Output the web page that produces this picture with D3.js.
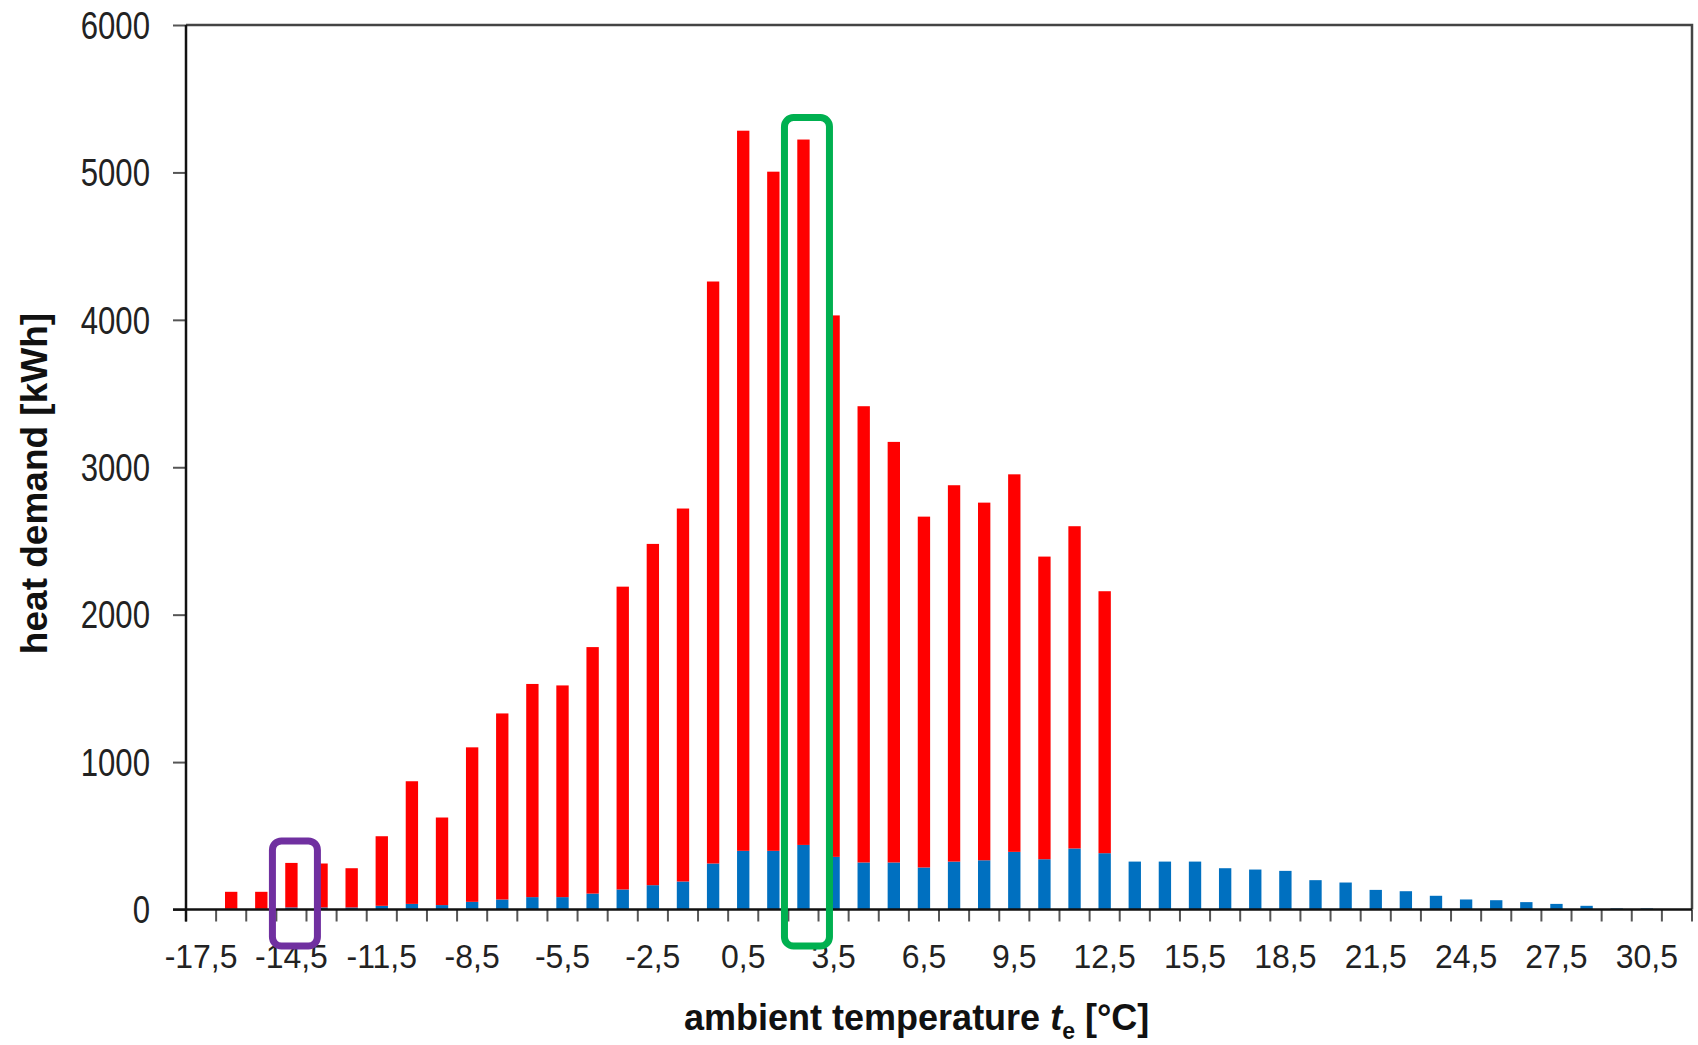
<!DOCTYPE html>
<html>
<head>
<meta charset="utf-8">
<script src="https://cdn.jsdelivr.net/npm/d3@7"></script>
<style>
  body { margin: 0; background: #fff; }
  svg { display: block; font-family: "Liberation Sans", Arial, sans-serif; }
</style>
</head>
<body>
<div id="chart"></div>
<script>
// temperature bins (bin centres, °C)
const temperatures = [
  -17.5, -16.5, -15.5, -14.5, -13.5, -12.5, -11.5, -10.5, -9.5, -8.5,
  -7.5, -6.5, -5.5, -4.5, -3.5, -2.5, -1.5, -0.5, 0.5, 1.5,
  2.5, 3.5, 4.5, 5.5, 6.5, 7.5, 8.5, 9.5, 10.5, 11.5,
  12.5, 13.5, 14.5, 15.5, 16.5, 17.5, 18.5, 19.5, 20.5, 21.5,
  22.5, 23.5, 24.5, 25.5, 26.5, 27.5, 28.5, 29.5, 30.5, 31.5
];

// blue part (bottom of stack), kWh
const hotWater = [
  0, 5, 5, 14, 14, 14, 25, 38, 30, 52,
  68, 84, 84, 108, 136, 165, 190, 312, 398, 398,
  438, 357, 319, 319, 285, 325, 334, 391, 341, 414,
  382, 325, 325, 325, 280, 271, 262, 199, 183, 133,
  124, 93, 68, 63, 50, 38, 25, 7, 7, 0
];

// red part (top of stack), kWh
const spaceHeating = [
  0, 115, 115, 302, 298, 266, 472, 832, 594, 1048,
  1262, 1446, 1436, 1672, 2054, 2315, 2530, 3948, 4885, 4607,
  4785, 3673, 3095, 2853, 2380, 2553, 2426, 2561, 2053, 2186,
  1777, 0, 0, 0, 0, 0, 0, 0, 0, 0,
  0, 0, 0, 0, 0, 0, 0, 0, 0, 0
];

const yTicks = [0, 1000, 2000, 3000, 4000, 5000, 6000];
const labelStep = 3;
const highlightTemps = [-14.5, 2.5];

const width = 1698;
const height = 1045;
const plot = { left: 186, right: 1692, top: 25, bottom: 909.5 };

const svg = d3.select("#chart")
  .append("svg")
  .attr("width", width)
  .attr("height", height);

const pad = 0.59;
const x = d3.scaleBand()
  .domain(temperatures)
  .range([plot.left, plot.right])
  .paddingInner(pad)
  .paddingOuter(pad / 2);

const y = d3.scaleLinear()
  .domain([0, 6000])
  .range([plot.bottom, plot.top]);

const rows = temperatures.map((t, i) => ({
  temp: t,
  hotWater: hotWater[i],
  spaceHeating: spaceHeating[i]
}));

const series = d3.stack().keys(["hotWater", "spaceHeating"])(rows);
const colors = { hotWater: "#0070C0", spaceHeating: "#FF0000" };

svg.append("g")
  .selectAll("g")
  .data(series)
  .join("g")
  .attr("fill", d => colors[d.key])
  .selectAll("rect")
  .data(d => d.filter(p => p[1] > p[0]))
  .join("rect")
  .attr("x", d => x(d.data.temp))
  .attr("width", x.bandwidth())
  .attr("y", d => y(d[1]))
  .attr("height", d => y(d[0]) - y(d[1]));

// frame: top and right
svg.append("path")
  .attr("d", `M${plot.left},${plot.top}H${plot.right}V${plot.bottom}`)
  .attr("fill", "none")
  .attr("stroke", "#444")
  .attr("stroke-width", 2.5);

// y axis
const yAxis = svg.append("g")
  .attr("transform", `translate(${plot.left},0)`)
  .call(d3.axisLeft(y).tickValues(yTicks).tickSize(13).tickFormat(d3.format("d")));
yAxis.select(".domain").remove();
yAxis.selectAll(".tick line").attr("stroke", "#555").attr("stroke-width", 2);
const ySquash = 0.82;
yAxis.selectAll(".tick text")
  .attr("font-size", 38)
  .attr("fill", "#222")
  .attr("x", -36 / ySquash)
  .attr("dy", "0.35em")
  .attr("transform", `scale(${ySquash},1)`);

// x axis labels (every third bin)
const fmt = t => String(t).replace(".", ",");
const xAxis = svg.append("g")
  .attr("transform", `translate(0,${plot.bottom})`)
  .call(d3.axisBottom(x)
    .tickValues(temperatures.filter((t, i) => i % labelStep === 0))
    .tickSize(0)
    .tickFormat(fmt));
xAxis.select(".domain").remove();
xAxis.selectAll(".tick text")
  .attr("font-size", 34)
  .attr("fill", "#222")
  .attr("y", 59)
  .attr("dy", 0)
  .attr("transform", "scale(0.94,1)");

// x tick marks on bin boundaries
const edgeOffset = x.step() * x.paddingInner() / 2;
const boundaries = temperatures.map(t => x(t) - edgeOffset).concat([plot.right]);
svg.append("g")
  .selectAll("line")
  .data(boundaries)
  .join("line")
  .attr("x1", d => d).attr("x2", d => d)
  .attr("y1", plot.bottom).attr("y2", plot.bottom + 12)
  .attr("stroke", "#555")
  .attr("stroke-width", 2);

// main axis lines
svg.append("line")
  .attr("x1", plot.left).attr("x2", plot.left)
  .attr("y1", plot.top).attr("y2", plot.bottom + 12)
  .attr("stroke", "#111").attr("stroke-width", 2.5);
svg.append("line")
  .attr("x1", plot.left - 13).attr("x2", plot.right)
  .attr("y1", plot.bottom).attr("y2", plot.bottom)
  .attr("stroke", "#111").attr("stroke-width", 2.5);

// highlight boxes
const boxColors = ["#7030A0", "#00B050"];
svg.append("g")
  .selectAll("rect")
  .data(highlightTemps)
  .join("rect")
  .attr("x", t => x(t) + x.bandwidth() / 2 + 3.5 - 22.5)
  .attr("width", 45)
  .attr("y", t => {
    const i = temperatures.indexOf(t);
    return y(hotWater[i] + spaceHeating[i]) - 22;
  })
  .attr("height", t => {
    const i = temperatures.indexOf(t);
    return y(0) + 36.5 - (y(hotWater[i] + spaceHeating[i]) - 22);
  })
  .attr("rx", 9)
  .attr("fill", "none")
  .attr("stroke", (t, i) => boxColors[i])
  .attr("stroke-width", 7);

// axis titles
svg.append("text")
  .attr("transform", "translate(46.7,483.5) rotate(-90)")
  .attr("text-anchor", "middle")
  .attr("font-size", 37)
  .attr("font-weight", "bold")
  .attr("fill", "#111")
  .text("heat demand [kWh]");

const xt = svg.append("text")
  .attr("x", 916.7)
  .attr("y", 1030)
  .attr("text-anchor", "middle")
  .attr("font-size", 36)
  .attr("font-weight", "bold")
  .attr("fill", "#111");
xt.append("tspan").text("ambient temperature ");
xt.append("tspan").attr("font-style", "italic").text("t");
xt.append("tspan").attr("font-size", 23).attr("dy", 9).text("e");
xt.append("tspan").attr("dy", -9).text(" [°C]");
</script>
</body>
</html>
